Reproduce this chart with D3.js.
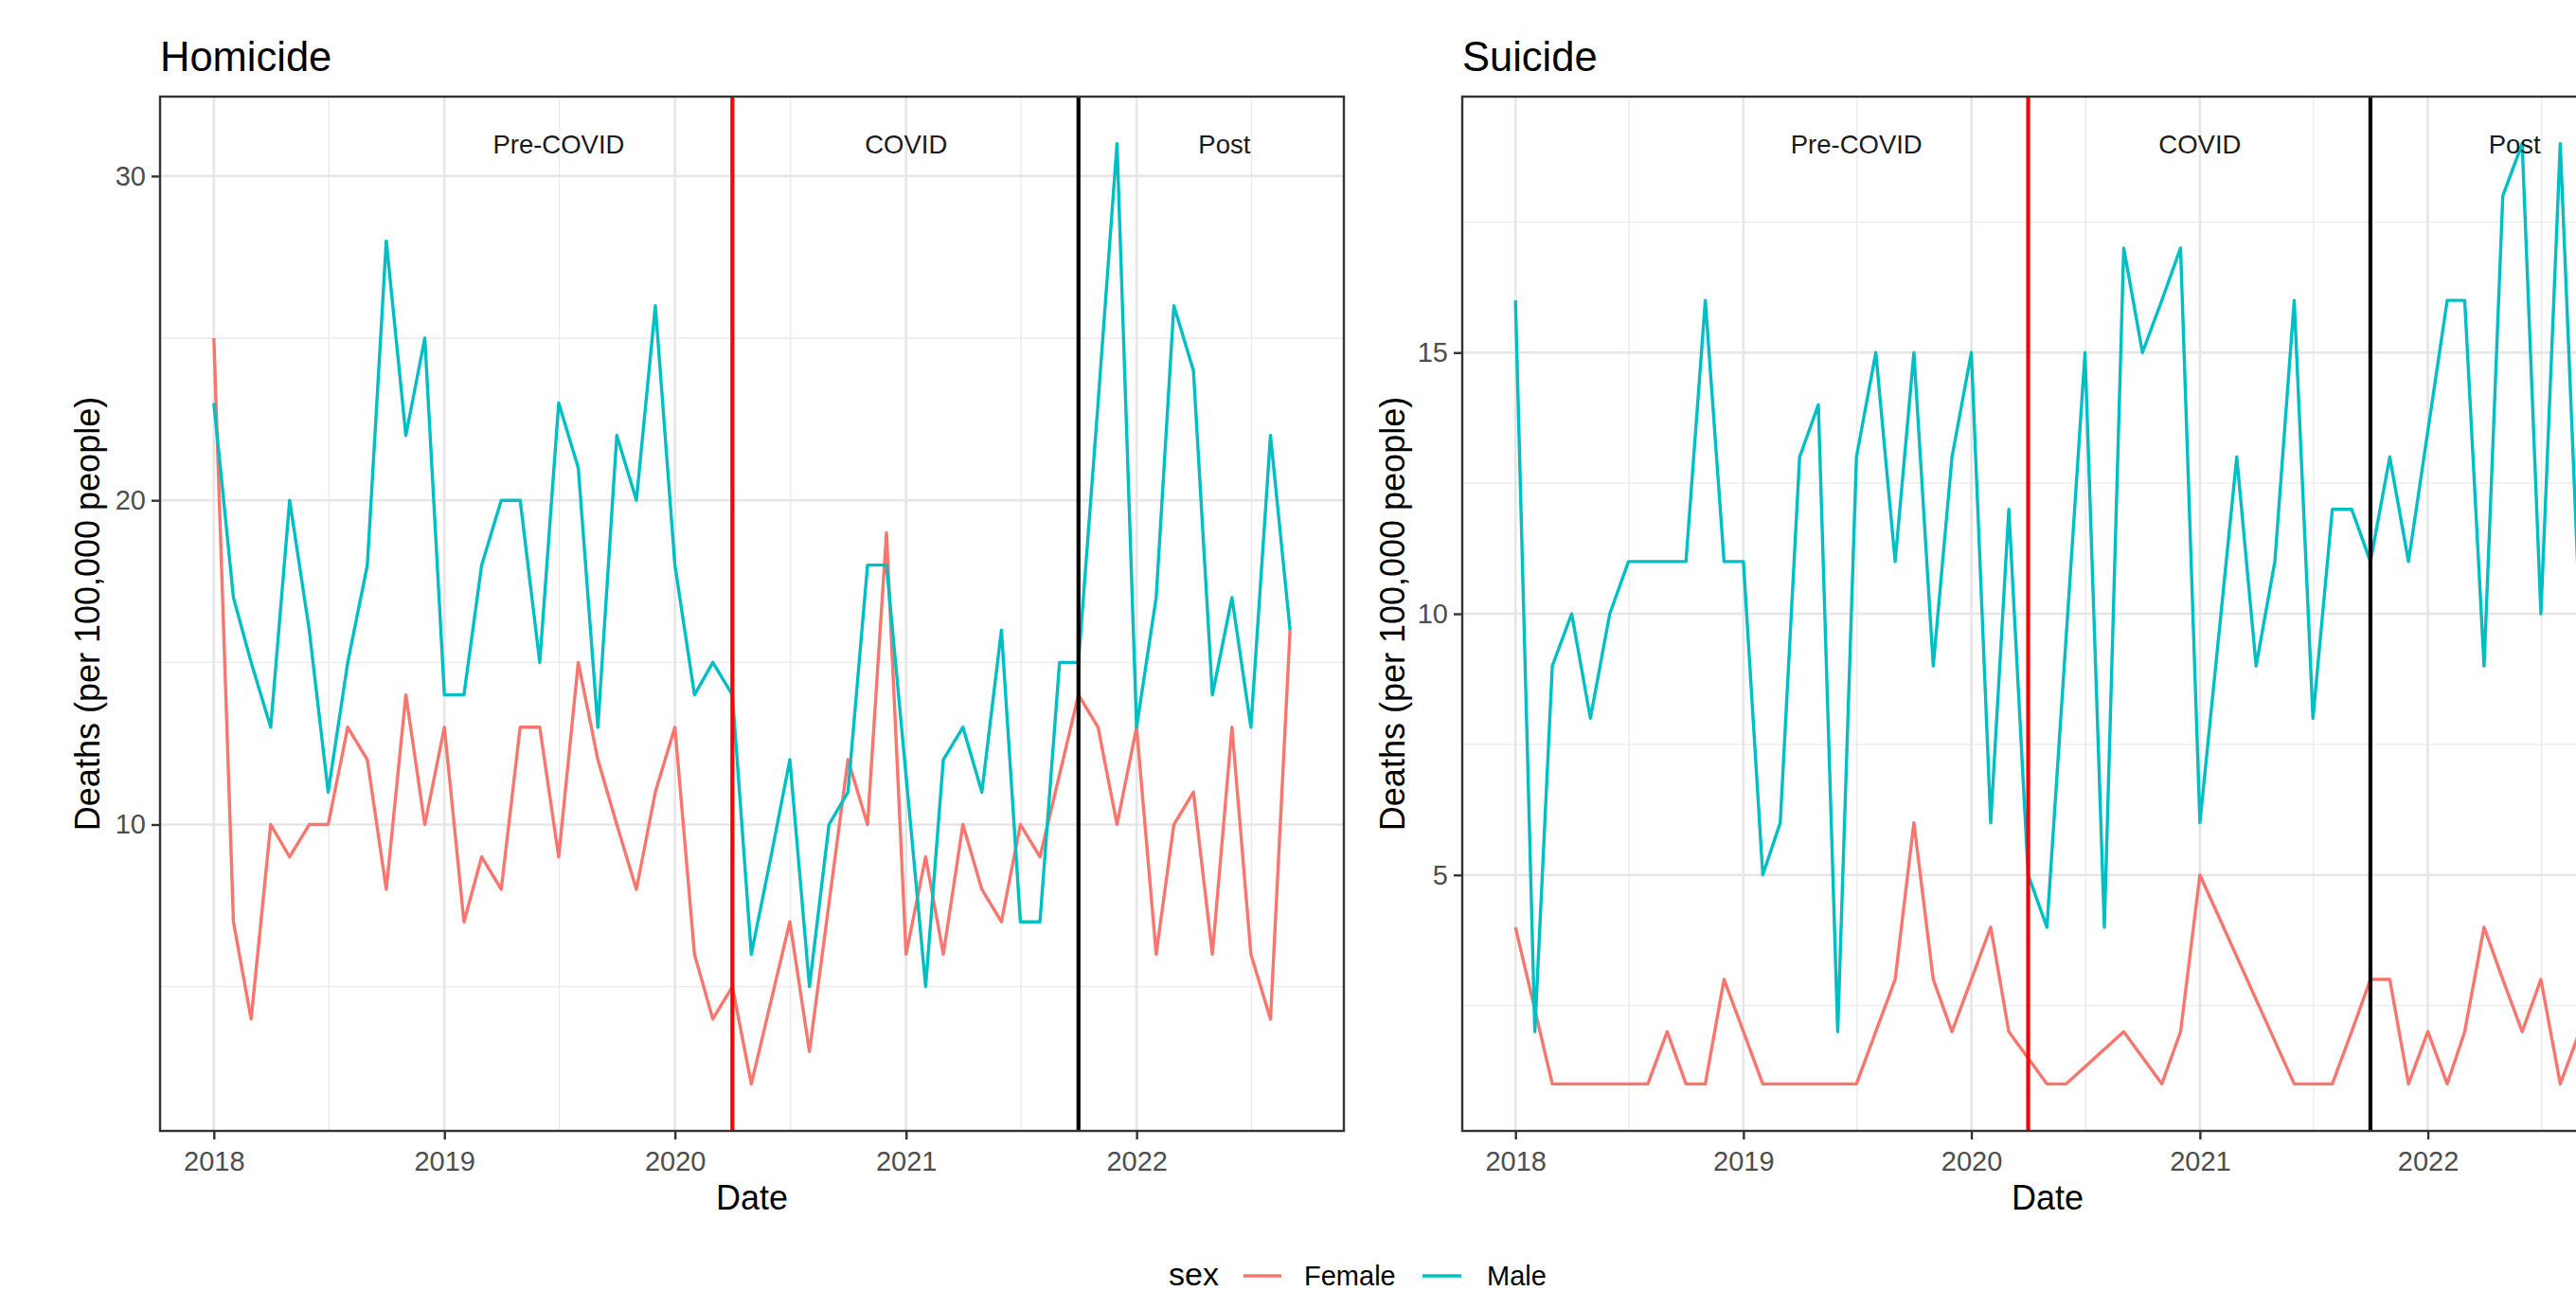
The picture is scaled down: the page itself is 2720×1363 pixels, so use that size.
<!DOCTYPE html>
<html>
<head>
<meta charset="utf-8">
<script src="https://cdn.jsdelivr.net/npm/d3@7/dist/d3.min.js"></script>
<style>
  html, body { margin: 0; padding: 0; background: #ffffff; }
  svg { display: block; font-family: "Liberation Sans", Arial, Helvetica, sans-serif; }
</style>
</head>
<body>
<svg id="chart" width="2720" height="1363"></svg>
<script>
// ---------------- DATA ----------------
const months = [
  "2018-01","2018-02","2018-03","2018-04","2018-05","2018-06","2018-07","2018-08","2018-09","2018-10","2018-11","2018-12",
  "2019-01","2019-02","2019-03","2019-04","2019-05","2019-06","2019-07","2019-08","2019-09","2019-10","2019-11","2019-12",
  "2020-01","2020-02","2020-03","2020-04","2020-05","2020-06","2020-07","2020-08","2020-09","2020-10","2020-11","2020-12",
  "2021-01","2021-02","2021-03","2021-04","2021-05","2021-06","2021-07","2021-08","2021-09","2021-10","2021-11","2021-12",
  "2022-01","2022-02","2022-03","2022-04","2022-05","2022-06","2022-07","2022-08","2022-09"
];
// null = month absent from the data (line connects across it)
const homicideFemale = [
  25, 7, 4,10, 9,10,10,13,12, 8,14,10,
  13, 7, 9, 8,13,13, 9,15,12,10, 8,11,
  13, 6, 4, 5, 2,null, 7, 3,null,12,10,19,
   6, 9, 6,10, 8, 7,10, 9,null,14,13,10,
  13, 6,10,11, 6,13, 6, 4,16
];
const homicideMale = [
  23,17,15,13,20,16,11,15,18,28,22,25,
  14,14,18,20,20,15,23,21,13,22,20,26,
  18,14,15,14, 6, 9,12, 5,10,11,18,18,
  null, 5,12,13,11,16, 7, 7,15,15,23,31,
  13,17,26,24,14,17,13,22,16
];
const suicideFemale = [
   4,null, 1, 1, 1, 1, 1, 1, 2, 1, 1, 3,
   2, 1, 1, 1, 1, 1, 1, 2, 3, 6, 3, 2,
   3, 4, 2,null, 1, 1,null,null, 2,null, 1, 2,
   5,null,null,null,null, 1, 1, 1, 2, 3, 3, 1,
   2, 1, 2, 4, 3, 2, 3, 1, 2
];
const suicideMale = [
  16, 2, 9,10, 8,10,11,11,11,11,16,11,
  11, 5, 6,13,14, 2,13,15,11,15, 9,13,
  15, 6,12, 5, 4,null,15, 4,17,15,16,17,
   6,null,13, 9,11,16, 8,12,12,11,13,11,
  null,16,16, 9,18,19,10,19,10
];
const homicideYTicks = [10, 20, 30];
const suicideYTicks = [5, 10, 15];
const xTickYears = ["2018", "2019", "2020", "2021", "2022"];
const periodLabels = ["Pre-COVID", "COVID", "Post"];
const periodLabelDates = ["2019-07-01", "2021-01-01", "2022-05-20"];
const periodBreakDates = ["2020-04-01", "2021-10-01"];
const sexLevels = ["Female", "Male"];

// ---------------- STYLE ----------------
const sexColors = { Female: "#F8766D", Male: "#00BFC4" };
const breakColors = ["#FF0000", "#000000"];
const parseDay = d3.utcParse("%Y-%m-%d");
const parseMonth = d3.utcParse("%Y-%m");
const parseYear = d3.utcParse("%Y");

const svg = d3.select("#chart");
svg.append("rect").attr("width", 2720).attr("height", 1363).attr("fill", "#ffffff");

function drawPanel(cfg) {
  const g = svg.append("g");
  const t0 = parseMonth(months[0]).getTime();
  const t1 = parseMonth(months[months.length - 1]).getTime();
  const pad = (t1 - t0) * 0.05;
  const x = d3.scaleUtc().domain([new Date(t0 - pad), new Date(t1 + pad)]).range([cfg.left, cfg.right]);

  const allVals = cfg.female.concat(cfg.male).filter(v => v != null);
  const [lo, hi] = d3.extent(allVals);
  const e = (hi - lo) * 0.05;
  const y = d3.scaleLinear().domain([lo - e, hi + e]).range([cfg.bottom, cfg.top]);

  const clipId = "clip-" + cfg.id;
  svg.append("clipPath").attr("id", clipId).append("rect")
    .attr("x", cfg.left).attr("y", cfg.top)
    .attr("width", cfg.right - cfg.left).attr("height", cfg.bottom - cfg.top);

  // gridlines
  const step = cfg.yTicks[1] - cfg.yTicks[0];
  const yMinor = cfg.yTicks.map(v => v - step / 2)
    .concat([cfg.yTicks[cfg.yTicks.length - 1] + step / 2])
    .filter(v => v > y.domain()[0] && v < y.domain()[1]);
  const xMajor = xTickYears.map(s => parseYear(s));
  const xMinor = ["2017","2018","2019","2020","2021","2022"].map(s => parseDay(s + "-07-02"))
    .filter(d => d > x.domain()[0] && d < x.domain()[1]);

  const grid = g.append("g").attr("clip-path", `url(#${clipId})`);
  grid.selectAll(".ymin").data(yMinor).join("line")
    .attr("x1", cfg.left).attr("x2", cfg.right)
    .attr("y1", d => y(d)).attr("y2", d => y(d))
    .attr("stroke", "#EBEBEB").attr("stroke-width", 1.4);
  grid.selectAll(".xmin").data(xMinor).join("line")
    .attr("y1", cfg.top).attr("y2", cfg.bottom)
    .attr("x1", d => x(d)).attr("x2", d => x(d))
    .attr("stroke", "#EBEBEB").attr("stroke-width", 1.4);
  grid.selectAll(".ymaj").data(cfg.yTicks).join("line")
    .attr("x1", cfg.left).attr("x2", cfg.right)
    .attr("y1", d => y(d)).attr("y2", d => y(d))
    .attr("stroke", "#E6E6E6").attr("stroke-width", 2.6);
  grid.selectAll(".xmaj").data(xMajor).join("line")
    .attr("y1", cfg.top).attr("y2", cfg.bottom)
    .attr("x1", d => x(d)).attr("x2", d => x(d))
    .attr("stroke", "#E6E6E6").attr("stroke-width", 2.6);

  // data lines
  const line = d3.line().x(d => x(d.date)).y(d => y(d.value));
  const plot = g.append("g").attr("clip-path", `url(#${clipId})`);
  sexLevels.forEach(sex => {
    const vals = sex === "Female" ? cfg.female : cfg.male;
    const pts = months.map((m, i) => ({ date: parseMonth(m), value: vals[i] }))
      .filter(d => d.value != null);
    plot.append("path").datum(pts)
      .attr("d", line)
      .attr("fill", "none")
      .attr("stroke", sexColors[sex])
      .attr("stroke-width", 3.4)
      .attr("stroke-linejoin", "round");
  });

  // period breaks
  plot.selectAll(".vline").data(periodBreakDates).join("line")
    .attr("x1", d => x(parseDay(d))).attr("x2", d => x(parseDay(d)))
    .attr("y1", cfg.top).attr("y2", cfg.bottom)
    .attr("stroke", (d, i) => breakColors[i]).attr("stroke-width", 4.2);

  // period labels
  plot.selectAll(".plab").data(periodLabels).join("text")
    .attr("x", (d, i) => x(parseDay(periodLabelDates[i])))
    .attr("y", y(hi))
    .attr("dy", "0.36em")
    .attr("text-anchor", "middle")
    .attr("font-size", 27.5)
    .attr("fill", "#1a1a1a")
    .text(d => d);

  // panel border
  g.append("rect")
    .attr("x", cfg.left).attr("y", cfg.top)
    .attr("width", cfg.right - cfg.left).attr("height", cfg.bottom - cfg.top)
    .attr("fill", "none").attr("stroke", "#333333").attr("stroke-width", 2.4);

  // axes
  const yAxis = g.append("g").attr("transform", `translate(${cfg.left},0)`)
    .call(d3.axisLeft(y).tickValues(cfg.yTicks).tickSize(9).tickPadding(6).tickFormat(d3.format("d")));
  const xAxis = g.append("g").attr("transform", `translate(0,${cfg.bottom})`)
    .call(d3.axisBottom(x).tickValues(xMajor).tickSize(9).tickPadding(12).tickFormat(d3.utcFormat("%Y")));
  [yAxis, xAxis].forEach(a => {
    a.select(".domain").remove();
    a.selectAll(".tick line").attr("stroke", "#333333").attr("stroke-width", 2.4);
    a.selectAll(".tick text").attr("fill", "#4D4D4D").attr("font-size", 29)
      .attr("font-family", "Liberation Sans, Arial, sans-serif");
  });

  // titles
  g.append("text").attr("x", cfg.left).attr("y", 75)
    .attr("font-size", 43.5).attr("fill", "#000000").text(cfg.title);
  g.append("text").attr("x", (cfg.left + cfg.right) / 2).attr("y", 1277)
    .attr("text-anchor", "middle").attr("font-size", 36).attr("fill", "#000000").text("Date");
  g.append("text")
    .attr("transform", `translate(${cfg.yTitleX},${(cfg.top + cfg.bottom) / 2}) rotate(-90)`)
    .attr("text-anchor", "middle").attr("font-size", 36).attr("fill", "#000000")
    .text("Deaths (per 100,000 people)");
}

drawPanel({ id: "hom", title: "Homicide", female: homicideFemale, male: homicideMale,
  yTicks: homicideYTicks, left: 169, right: 1419, top: 102, bottom: 1194, yTitleX: 105 });
drawPanel({ id: "sui", title: "Suicide", female: suicideFemale, male: suicideMale,
  yTicks: suicideYTicks, left: 1544, right: 2780, top: 102, bottom: 1194, yTitleX: 1483 });

// legend
const leg = svg.append("g");
leg.append("text").attr("x", 1234).attr("y", 1357).attr("font-size", 34).attr("fill", "#000").text("sex");
const legItems = [
  { sex: sexLevels[0], x0: 1313, x1: 1353, tx: 1377 },
  { sex: sexLevels[1], x0: 1502, x1: 1543, tx: 1570 }
];
legItems.forEach(it => {
  leg.append("line").attr("x1", it.x0).attr("x2", it.x1).attr("y1", 1347).attr("y2", 1347)
    .attr("stroke", sexColors[it.sex]).attr("stroke-width", 3.4);
  leg.append("text").attr("x", it.tx).attr("y", 1357).attr("font-size", 29).attr("fill", "#000").text(it.sex);
});
</script>
</body>
</html>
